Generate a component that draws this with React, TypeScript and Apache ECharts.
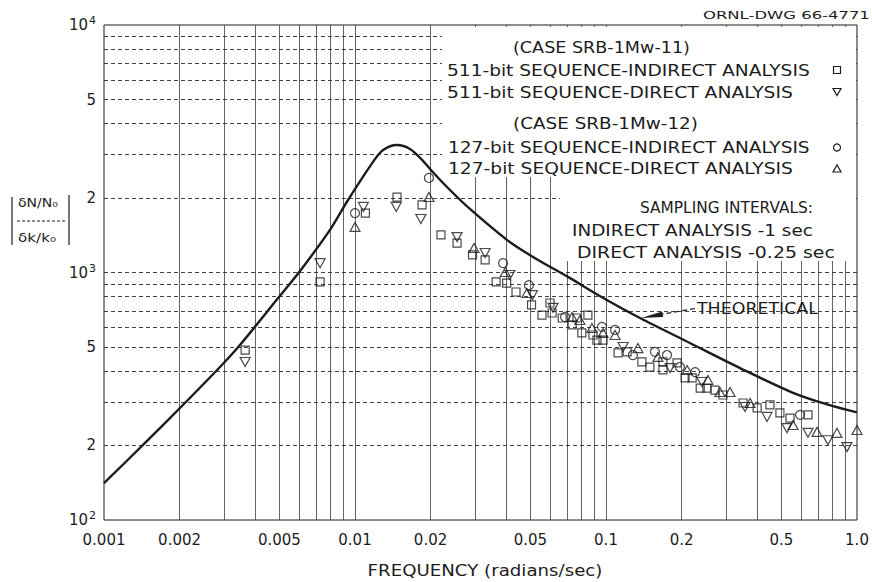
import React, { useEffect, useRef } from "react";
import * as echarts from "echarts";

// ---- axis ticks ----
const xTickValues = [0.001, 0.002, 0.005, 0.01, 0.02, 0.05, 0.1, 0.2, 0.5, 1.0];
const xTickLabels = ["0.001", "0.002", "0.005", "0.01", "0.02", "0.05", "0.1", "0.2", "0.5", "1.0"];
const yTickValues = [100, 200, 500, 1000, 2000, 5000, 10000];
const yTickLabels = ["{b|10}{s|2}", "2", "5", "{b|10}{s|3}", "2", "5", "{b|10}{s|4}"];

// ---- theoretical curve ----
const theoryFreq = [0.001, 0.00143, 0.0021, 0.00295, 0.00348, 0.00494, 0.00604, 0.00795, 0.00938, 0.0118, 0.01294, 0.0147, 0.01656, 0.0185, 0.0204, 0.0239, 0.0287, 0.0404, 0.0512, 0.0716, 0.0944, 0.1366, 0.216, 0.342, 0.55, 0.76, 1.0];
const theoryGain = [141, 201, 297, 423, 509, 788, 1014, 1486, 1963, 2800, 3126, 3273, 3155, 2851, 2547, 2154, 1806, 1352, 1156, 951, 804, 655, 519, 411, 328, 293, 272];

// ---- 511-bit sequence, indirect analysis (squares) ----
const ind511Freq = [0.00365, 0.00726, 0.011, 0.0147, 0.0185, 0.022, 0.0255, 0.0294, 0.033, 0.0365, 0.0402, 0.0438, 0.0505, 0.0598, 0.0556, 0.061, 0.0669, 0.0766, 0.0847, 0.0733, 0.0801, 0.0887, 0.092, 0.0973, 0.1117, 0.1214, 0.139, 0.1496, 0.1686, 0.1686, 0.192, 0.2066, 0.2204, 0.2373, 0.2524, 0.2717, 0.2924, 0.3516, 0.4, 0.45, 0.493, 0.541, 0.638];
const ind511Gain = [486, 916, 1738, 2018, 1875, 1419, 1315, 1178, 1124, 916, 906, 834, 740, 753, 673, 686, 655, 655, 673, 614, 570, 559, 533, 533, 473, 478, 435, 415, 435, 404, 431, 375, 375, 341, 341, 335, 320, 297, 284, 292, 271, 258, 266];

// ---- 511-bit sequence, direct analysis (inverted triangles) ----
const dir511Freq = [0.00365, 0.00726, 0.0108, 0.0146, 0.0183, 0.0255, 0.033, 0.0414, 0.0509, 0.0615, 0.117, 0.18, 0.241, 0.358, 0.438, 0.526, 0.638, 0.766, 0.912];
const dir511Gain = [435, 1091, 1841, 1841, 1645, 1390, 1199, 977, 810, 720, 500, 411, 361, 286, 261, 235, 225, 210, 197];

// ---- 127-bit sequence, indirect analysis (circles) ----
const ind127Freq = [0.01, 0.0197, 0.0389, 0.0493, 0.0687, 0.0964, 0.1087, 0.128, 0.1566, 0.175, 0.197, 0.2265, 0.593];
const ind127Gain = [1738, 2410, 1091, 889, 661, 603, 586, 464, 478, 464, 415, 396, 266];

// ---- 127-bit sequence, direct analysis (triangles) ----
const dir127Freq = [0.01, 0.0197, 0.0298, 0.0397, 0.0484, 0.0733, 0.0787, 0.0879, 0.0973, 0.1087, 0.134, 0.161, 0.2105, 0.2547, 0.2844, 0.312, 0.375, 0.556, 0.693, 0.832, 1.0];
const dir127Gain = [1528, 2018, 1256, 1005, 826, 661, 643, 597, 570, 559, 495, 456, 404, 368, 329, 329, 297, 242, 227, 225, 231];

// ---- grid (graph paper) ----
const xDecades = [0.001, 0.01, 0.1];
const yDecades = [100, 1000];
const gridMultipliers = [1, 2, 3, 4, 5, 6, 7, 8, 9];
const xMin = 0.001;
const xMax = 1;
const yMin = 100;
const yMax = 10000;

const FONT = "DejaVu Sans";
const INK = "#1c1c1c";

function zip(a: number[], b: number[]) {
  return a.map((v, i) => [v, b[i]]);
}

function measure(text: string, size: number) {
  const ctx = document.createElement("canvas").getContext("2d")!;
  ctx.font = `${size}px "${FONT}"`;
  return ctx.measureText(text).width;
}

function label(text: string, x: number, y: number, width: number, size: number, align = "left") {
  return {
    type: "text",
    x,
    y,
    z: 60,
    scaleX: width / measure(text, size),
    style: {
      text,
      fontFamily: FONT,
      fontSize: size,
      fill: INK,
      align,
      verticalAlign: "middle",
    },
  };
}

function nearestIndex(values: number[], v: number) {
  let best = 0;
  values.forEach((t, i) => {
    if (Math.abs(Math.log10(t) - Math.log10(v)) < Math.abs(Math.log10(values[best]) - Math.log10(v))) best = i;
  });
  return best;
}

export default function App() {
  const ref = useRef<HTMLDivElement>(null);

  useEffect(() => {
    const chart = echarts.init(ref.current!, null, { renderer: "svg" });

    const gridData: any[] = [];
    xDecades.forEach((d) =>
      gridMultipliers.forEach((k) => {
        if (d === xMin && k === 1) return;
        const x = +(k * d).toPrecision(3);
        gridData.push({
          coords: [[x, yMin], [x, yMax]],
          lineStyle: { color: "#3c3c3c", width: 0.8, type: "solid", opacity: 1 },
        });
      })
    );
    yDecades.forEach((d) =>
      gridMultipliers.forEach((k) => {
        if (d === yMin && k === 1) return;
        const y = k * d;
        gridData.push({
          coords: [[xMin, y], [xMax, y]],
          lineStyle: { color: "#2e2e2e", width: 0.9, type: [4, 3], opacity: 1 },
        });
      })
    );

    const hollow = { color: "rgba(0,0,0,0)", borderColor: INK, borderWidth: 1.2 };
    const sym = { fill: "none", stroke: INK, lineWidth: 1.2 };

    chart.setOption({
      animation: false,
      backgroundColor: "#ffffff",
      grid: {
        left: 104,
        top: 25,
        width: 753,
        height: 495,
        show: true,
        borderColor: INK,
        borderWidth: 1,
        backgroundColor: "transparent",
      },
      xAxis: {
        type: "log",
        logBase: 10,
        min: xMin,
        max: xMax,
        axisLine: { show: false },
        axisTick: { show: false },
        splitLine: { show: false },
        axisLabel: {
          customValues: xTickValues,
          margin: 12,
          fontFamily: FONT,
          fontSize: 15,
          color: INK,
          formatter: (v: number) => xTickLabels[nearestIndex(xTickValues, v)],
        },
      },
      yAxis: {
        type: "log",
        logBase: 10,
        min: yMin,
        max: yMax,
        axisLine: { show: false },
        axisTick: { show: false },
        splitLine: { show: false },
        axisLabel: {
          customValues: yTickValues,
          margin: 8,
          fontFamily: FONT,
          fontSize: 15,
          color: INK,
          formatter: (v: number) => yTickLabels[nearestIndex(yTickValues, v)],
          rich: {
            b: { fontFamily: FONT, fontSize: 15, color: INK },
            s: { fontFamily: FONT, fontSize: 11, color: INK, padding: [0, 0, 9, 1] },
          },
        },
      },
      series: [
        {
          name: "grid",
          type: "lines",
          coordinateSystem: "cartesian2d",
          polyline: false,
          silent: true,
          z: 1,
          symbol: ["none", "none"],
          lineStyle: { opacity: 1 },
          data: gridData,
        },
        {
          name: "THEORETICAL",
          type: "line",
          data: zip(theoryFreq, theoryGain),
          smooth: 0.3,
          showSymbol: false,
          symbol: "none",
          z: 3,
          lineStyle: { color: INK, width: 2.4 },
        },
        {
          name: "511-bit SEQUENCE-INDIRECT ANALYSIS",
          type: "scatter",
          data: zip(ind511Freq, ind511Gain),
          symbol: "rect",
          symbolSize: 8,
          z: 4,
          itemStyle: hollow,
        },
        {
          name: "511-bit SEQUENCE-DIRECT ANALYSIS",
          type: "scatter",
          data: zip(dir511Freq, dir511Gain),
          symbol: "triangle",
          symbolRotate: 180,
          symbolSize: [10, 9],
          z: 4,
          itemStyle: hollow,
        },
        {
          name: "127-bit SEQUENCE-INDIRECT ANALYSIS",
          type: "scatter",
          data: zip(ind127Freq, ind127Gain),
          symbol: "circle",
          symbolSize: 9,
          z: 4,
          itemStyle: hollow,
        },
        {
          name: "127-bit SEQUENCE-DIRECT ANALYSIS",
          type: "scatter",
          data: zip(dir127Freq, dir127Gain),
          symbol: "triangle",
          symbolSize: [10, 9],
          z: 4,
          itemStyle: hollow,
        },
      ],
      graphic: [
        // white panels behind the key
        { type: "rect", z: 50, shape: { x: 442, y: 27, width: 414, height: 150 }, style: { fill: "#fff" } },
        { type: "rect", z: 50, shape: { x: 560, y: 177, width: 296, height: 84 }, style: { fill: "#fff" } },
        label("ORNL-DWG 66-4771", 703, 15, 167, 11),
        label("(CASE SRB-1Mw-11)", 513, 47, 177, 16),
        label("511-bit SEQUENCE-INDIRECT ANALYSIS", 447, 70, 363, 16),
        label("511-bit SEQUENCE-DIRECT ANALYSIS", 447, 92, 346, 16),
        label("(CASE SRB-1Mw-12)", 513, 123, 185, 16),
        label("127-bit SEQUENCE-INDIRECT ANALYSIS", 448, 147, 362, 16),
        label("127-bit SEQUENCE-DIRECT ANALYSIS", 448, 168, 345, 16),
        label("SAMPLING INTERVALS:", 640, 207, 173, 16),
        label("INDIRECT ANALYSIS -1 sec", 572, 230, 241, 16),
        label("DIRECT ANALYSIS -0.25 sec", 577, 253, 258, 16),
        label("THEORETICAL", 697, 308, 121, 16),
        label("FREQUENCY (radians/sec)", 485, 570, 235, 16, "center"),
        // key symbols
        { type: "rect", z: 61, shape: { x: 833.5, y: 66.5, width: 7, height: 7 }, style: sym },
        { type: "polygon", z: 61, shape: { points: [[833, 88.5], [841, 88.5], [837, 95.5]] }, style: sym },
        { type: "circle", z: 61, shape: { cx: 837, cy: 147.5, r: 3.5 }, style: sym },
        { type: "polygon", z: 61, shape: { points: [[833, 172], [841, 172], [837, 165]] }, style: sym },
        // THEORETICAL pointer
        { type: "line", z: 61, shape: { x1: 695, y1: 308.5, x2: 662, y2: 314.2 }, style: { stroke: INK, lineWidth: 1.2, lineDash: [5, 3] } },
        { type: "polygon", z: 61, shape: { points: [[641, 318], [663.1, 316.9], [662.3, 311.5]] }, style: { fill: INK } },
        // y-axis quantity |(dN/N0)/(dk/k0)|
        { type: "line", z: 61, shape: { x1: 12, y1: 197, x2: 12, y2: 245 }, style: { stroke: INK, lineWidth: 1.2 } },
        { type: "line", z: 61, shape: { x1: 69, y1: 195, x2: 69, y2: 245 }, style: { stroke: INK, lineWidth: 1.2 } },
        { type: "line", z: 61, shape: { x1: 17, y1: 221, x2: 65, y2: 221 }, style: { stroke: INK, lineWidth: 1, lineDash: [3, 2] } },
        label("δN/N₀", 18, 203, 40, 12),
        label("δk/k₀", 18, 238, 38, 12),
      ],
    });

    return () => chart.dispose();
  }, []);

  return (
    <div
      ref={ref}
      style={{ position: "absolute", left: 0, top: 0, width: 872, height: 582, background: "#fff" }}
    />
  );
}
